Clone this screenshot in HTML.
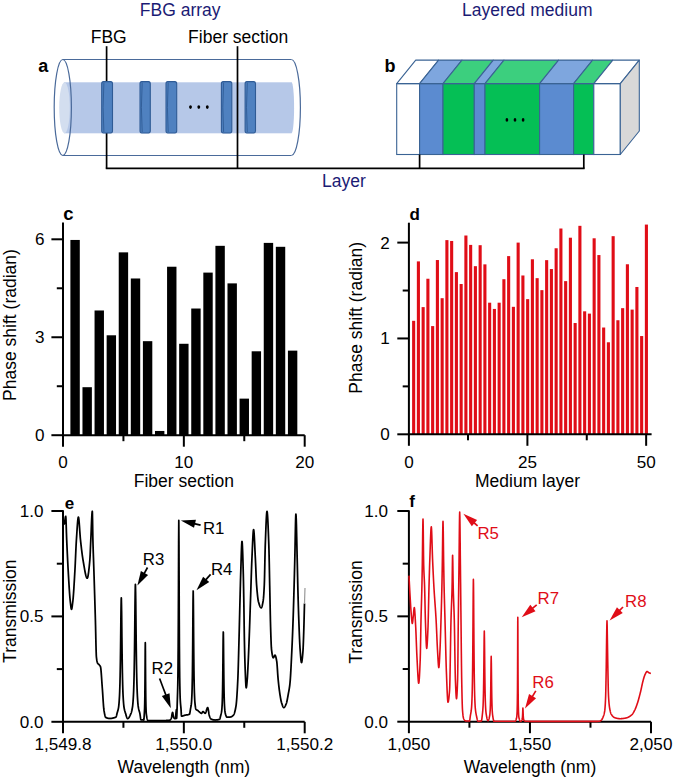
<!DOCTYPE html>
<html><head><meta charset="utf-8"><title>Figure</title>
<style>
html,body{margin:0;padding:0;background:#fff;}
body{width:675px;height:779px;overflow:hidden;}
svg{display:block;font-family:"Liberation Sans",sans-serif;}
</style></head>
<body>
<svg width="675" height="779" viewBox="0 0 675 779">
<rect width="675" height="779" fill="#fff"/>
<rect x="64" y="82.3" width="227.5" height="51" fill="#b6c8e8"/>
<ellipse cx="291.5" cy="107.8" rx="2.6" ry="25.5" fill="#b6c8e8"/>
<ellipse cx="64.5" cy="107.8" rx="5.3" ry="25.5" fill="#d3deef"/>
<ellipse cx="62.8" cy="107.5" rx="8.6" ry="48" fill="none" stroke="#4a6a9a" stroke-width="1.2"/>
<line x1="62.8" y1="59.5" x2="291.4" y2="59.5" stroke="#4a6a9a" stroke-width="1.2" />
<line x1="62.8" y1="155.5" x2="291.4" y2="155.5" stroke="#4a6a9a" stroke-width="1.2" />
<path d="M291.4,59.5 A9,48 0 0 1 291.4,155.5" fill="none" stroke="#4a6a9a" stroke-width="1.2"/>
<line x1="106.6" y1="46.2" x2="106.6" y2="168.6" stroke="#000" stroke-width="1.7" />
<line x1="237.5" y1="46.2" x2="237.5" y2="168.6" stroke="#000" stroke-width="1.7" />
<rect x="101.7" y="81.6" width="10.8" height="51.4" rx="1.8" ry="2.2" fill="#4f81c0" stroke="#2f5b95" stroke-width="1.1"/>
<path d="M103.9,82.6 Q102.3,107.3 103.9,132.0" fill="none" stroke="#2f5b95" stroke-width="0.9"/>
<rect x="140" y="81.6" width="10.3" height="51.4" rx="1.8" ry="2.2" fill="#4f81c0" stroke="#2f5b95" stroke-width="1.1"/>
<path d="M142.2,82.6 Q140.6,107.3 142.2,132.0" fill="none" stroke="#2f5b95" stroke-width="0.9"/>
<rect x="166" y="81.6" width="10.7" height="51.4" rx="1.8" ry="2.2" fill="#4f81c0" stroke="#2f5b95" stroke-width="1.1"/>
<path d="M168.2,82.6 Q166.6,107.3 168.2,132.0" fill="none" stroke="#2f5b95" stroke-width="0.9"/>
<rect x="221.4" y="81.6" width="10.4" height="51.4" rx="1.8" ry="2.2" fill="#4f81c0" stroke="#2f5b95" stroke-width="1.1"/>
<path d="M223.6,82.6 Q222,107.3 223.6,132.0" fill="none" stroke="#2f5b95" stroke-width="0.9"/>
<rect x="245.1" y="81.6" width="10.4" height="51.4" rx="1.8" ry="2.2" fill="#4f81c0" stroke="#2f5b95" stroke-width="1.1"/>
<path d="M247.3,82.6 Q245.7,107.3 247.3,132.0" fill="none" stroke="#2f5b95" stroke-width="0.9"/>
<ellipse cx="190.5" cy="107.1" rx="1.45" ry="1.8" fill="#000"/>
<ellipse cx="198.8" cy="107.1" rx="1.45" ry="1.8" fill="#000"/>
<ellipse cx="207.3" cy="107.1" rx="1.45" ry="1.8" fill="#000"/>
<text x="180.2" y="16" font-size="17.5" text-anchor="middle" fill="#1b1b74" font-weight="normal" >FBG array</text>
<text x="108.7" y="43.2" font-size="17.5" text-anchor="middle" fill="#000" font-weight="normal" >FBG</text>
<text x="238.2" y="43.2" font-size="17.5" text-anchor="middle" fill="#000" font-weight="normal" >Fiber section</text>
<text x="43.3" y="71.8" font-size="18" text-anchor="middle" fill="#000" font-weight="bold" >a</text>
<rect x="396.7" y="83.6" width="22.9" height="70.9" fill="#ffffff" stroke="#3a6394" stroke-width="1.1"/>
<polygon points="396.7,83.6 419.6,83.6 438.6,60.1 415.7,60.1" fill="#ffffff" stroke="#3a6394" stroke-width="1.1" stroke-linejoin="round"/>
<rect x="419.6" y="83.6" width="23.4" height="70.9" fill="#5b8bd0" stroke="#3a6394" stroke-width="1.1"/>
<polygon points="419.6,83.6 443,83.6 462,60.1 438.6,60.1" fill="#7ea6de" stroke="#3a6394" stroke-width="1.1" stroke-linejoin="round"/>
<rect x="443" y="83.6" width="31.3" height="70.9" fill="#05bf55" stroke="#3a6394" stroke-width="1.1"/>
<polygon points="443,83.6 474.3,83.6 493.3,60.1 462,60.1" fill="#3ccf7e" stroke="#3a6394" stroke-width="1.1" stroke-linejoin="round"/>
<rect x="474.3" y="83.6" width="10.7" height="70.9" fill="#5b8bd0" stroke="#3a6394" stroke-width="1.1"/>
<polygon points="474.3,83.6 485,83.6 504,60.1 493.3,60.1" fill="#7ea6de" stroke="#3a6394" stroke-width="1.1" stroke-linejoin="round"/>
<rect x="485" y="83.6" width="54.6" height="70.9" fill="#05bf55" stroke="#3a6394" stroke-width="1.1"/>
<polygon points="485,83.6 539.6,83.6 558.6,60.1 504,60.1" fill="#3ccf7e" stroke="#3a6394" stroke-width="1.1" stroke-linejoin="round"/>
<rect x="539.6" y="83.6" width="34" height="70.9" fill="#5b8bd0" stroke="#3a6394" stroke-width="1.1"/>
<polygon points="539.6,83.6 573.6,83.6 592.6,60.1 558.6,60.1" fill="#7ea6de" stroke="#3a6394" stroke-width="1.1" stroke-linejoin="round"/>
<rect x="573.6" y="83.6" width="20.2" height="70.9" fill="#05bf55" stroke="#3a6394" stroke-width="1.1"/>
<polygon points="573.6,83.6 593.8,83.6 612.8,60.1 592.6,60.1" fill="#3ccf7e" stroke="#3a6394" stroke-width="1.1" stroke-linejoin="round"/>
<rect x="593.8" y="83.6" width="26.5" height="70.9" fill="#ffffff" stroke="#3a6394" stroke-width="1.1"/>
<polygon points="593.8,83.6 620.3,83.6 639.3,60.1 612.8,60.1" fill="#ffffff" stroke="#3a6394" stroke-width="1.1" stroke-linejoin="round"/>
<polygon points="620.3,83.6 639.3,60.1 639.3,131 620.3,154.5" fill="#d8d8d8" stroke="#3a6394" stroke-width="1.1" stroke-linejoin="round"/>
<ellipse cx="506.9" cy="119.9" rx="1.35" ry="1.8" fill="#000"/>
<ellipse cx="515.0" cy="119.9" rx="1.35" ry="1.8" fill="#000"/>
<ellipse cx="523.1" cy="119.9" rx="1.35" ry="1.8" fill="#000"/>
<line x1="419.6" y1="154.5" x2="419.6" y2="168.6" stroke="#000" stroke-width="1.7" />
<line x1="583.8" y1="154.5" x2="583.8" y2="168.6" stroke="#000" stroke-width="1.7" />
<line x1="105.8" y1="168.4" x2="584.6" y2="168.4" stroke="#000" stroke-width="1.7" />
<text x="527.3" y="16" font-size="17.5" text-anchor="middle" fill="#1b1b74" font-weight="normal" >Layered medium</text>
<text x="343.9" y="186.7" font-size="17.5" text-anchor="middle" fill="#1b1b74" font-weight="normal" >Layer</text>
<text x="390" y="72.4" font-size="18" text-anchor="middle" fill="#000" font-weight="bold" >b</text>
<rect x="70.39" y="239.95" width="9.4" height="195.25" fill="#000"/>
<rect x="82.47" y="387.2" width="9.4" height="48" fill="#000"/>
<rect x="94.55" y="310.48" width="9.4" height="124.72" fill="#000"/>
<rect x="106.64" y="335.29" width="9.4" height="99.91" fill="#000"/>
<rect x="118.73" y="252.36" width="9.4" height="182.84" fill="#000"/>
<rect x="130.81" y="278.48" width="9.4" height="156.72" fill="#000"/>
<rect x="142.9" y="341.17" width="9.4" height="94.03" fill="#000"/>
<rect x="154.98" y="430.96" width="9.4" height="4.24" fill="#000"/>
<rect x="167.07" y="266.73" width="9.4" height="168.47" fill="#000"/>
<rect x="179.15" y="343.78" width="9.4" height="91.42" fill="#000"/>
<rect x="191.24" y="308.52" width="9.4" height="126.68" fill="#000"/>
<rect x="203.32" y="272.6" width="9.4" height="162.6" fill="#000"/>
<rect x="215.41" y="245.83" width="9.4" height="189.37" fill="#000"/>
<rect x="227.49" y="283.38" width="9.4" height="151.82" fill="#000"/>
<rect x="239.58" y="398.63" width="9.4" height="36.57" fill="#000"/>
<rect x="251.66" y="351.29" width="9.4" height="83.91" fill="#000"/>
<rect x="263.75" y="242.89" width="9.4" height="192.31" fill="#000"/>
<rect x="275.83" y="246.81" width="9.4" height="188.39" fill="#000"/>
<rect x="287.92" y="350.64" width="9.4" height="84.56" fill="#000"/>
<line x1="63" y1="222.5" x2="63" y2="436.2" stroke="#000" stroke-width="2" />
<line x1="62" y1="435.2" x2="304.7" y2="435.2" stroke="#000" stroke-width="2" />
<line x1="51.4" y1="435.2" x2="63" y2="435.2" stroke="#000" stroke-width="2" />
<line x1="51.4" y1="337.25" x2="63" y2="337.25" stroke="#000" stroke-width="2" />
<line x1="51.4" y1="239.3" x2="63" y2="239.3" stroke="#000" stroke-width="2" />
<line x1="56.8" y1="386.23" x2="63" y2="386.23" stroke="#000" stroke-width="2" />
<line x1="56.8" y1="288.27" x2="63" y2="288.27" stroke="#000" stroke-width="2" />
<line x1="63" y1="435.2" x2="63" y2="446.7" stroke="#000" stroke-width="2" />
<line x1="183.85" y1="435.2" x2="183.85" y2="446.7" stroke="#000" stroke-width="2" />
<line x1="304.7" y1="435.2" x2="304.7" y2="446.7" stroke="#000" stroke-width="2" />
<line x1="123.43" y1="435.2" x2="123.43" y2="441.2" stroke="#000" stroke-width="2" />
<line x1="244.28" y1="435.2" x2="244.28" y2="441.2" stroke="#000" stroke-width="2" />
<text x="44.5" y="441.2" font-size="17.1" text-anchor="end" fill="#000" font-weight="normal" >0</text>
<text x="44.5" y="343.25" font-size="17.1" text-anchor="end" fill="#000" font-weight="normal" >3</text>
<text x="44.5" y="245.3" font-size="17.1" text-anchor="end" fill="#000" font-weight="normal" >6</text>
<text x="63" y="467.5" font-size="17.1" text-anchor="middle" fill="#000" font-weight="normal" >0</text>
<text x="183.85" y="467.5" font-size="17.1" text-anchor="middle" fill="#000" font-weight="normal" >10</text>
<text x="304.7" y="467.5" font-size="17.1" text-anchor="middle" fill="#000" font-weight="normal" >20</text>
<text x="68.5" y="220" font-size="18.5" text-anchor="middle" fill="#000" font-weight="bold" >c</text>
<text x="0" y="0" font-size="17.5" text-anchor="middle" transform="translate(15.6,325) rotate(-90)">Phase shift (radian)</text>
<text x="183.85" y="487" font-size="17.5" text-anchor="middle" fill="#000" font-weight="normal" >Fiber section</text>
<rect x="412.1" y="320.81" width="3.1" height="113.49" fill="#e00d17"/>
<rect x="416.85" y="261.39" width="3.1" height="172.91" fill="#e00d17"/>
<rect x="421.6" y="307.11" width="3.1" height="127.19" fill="#e00d17"/>
<rect x="426.35" y="278.74" width="3.1" height="155.56" fill="#e00d17"/>
<rect x="431.1" y="326.09" width="3.1" height="108.21" fill="#e00d17"/>
<rect x="435.85" y="260.04" width="3.1" height="174.26" fill="#e00d17"/>
<rect x="440.6" y="298.19" width="3.1" height="136.11" fill="#e00d17"/>
<rect x="445.35" y="240.11" width="3.1" height="194.19" fill="#e00d17"/>
<rect x="450.1" y="240.97" width="3.1" height="193.33" fill="#e00d17"/>
<rect x="454.85" y="272.12" width="3.1" height="162.18" fill="#e00d17"/>
<rect x="459.6" y="284.01" width="3.1" height="150.29" fill="#e00d17"/>
<rect x="464.35" y="235.51" width="3.1" height="198.79" fill="#e00d17"/>
<rect x="469.1" y="244.9" width="3.1" height="189.4" fill="#e00d17"/>
<rect x="473.85" y="266.18" width="3.1" height="168.12" fill="#e00d17"/>
<rect x="478.6" y="245.19" width="3.1" height="189.11" fill="#e00d17"/>
<rect x="483.35" y="264.36" width="3.1" height="169.94" fill="#e00d17"/>
<rect x="488.1" y="302.7" width="3.1" height="131.6" fill="#e00d17"/>
<rect x="492.85" y="308.93" width="3.1" height="125.37" fill="#e00d17"/>
<rect x="497.6" y="302.7" width="3.1" height="131.6" fill="#e00d17"/>
<rect x="502.35" y="279.21" width="3.1" height="155.09" fill="#e00d17"/>
<rect x="507.1" y="256.11" width="3.1" height="178.19" fill="#e00d17"/>
<rect x="511.85" y="306.82" width="3.1" height="127.48" fill="#e00d17"/>
<rect x="516.6" y="242.6" width="3.1" height="191.7" fill="#e00d17"/>
<rect x="521.35" y="275.48" width="3.1" height="158.82" fill="#e00d17"/>
<rect x="526.1" y="299.15" width="3.1" height="135.15" fill="#e00d17"/>
<rect x="530.85" y="259.28" width="3.1" height="175.02" fill="#e00d17"/>
<rect x="535.6" y="278.16" width="3.1" height="156.14" fill="#e00d17"/>
<rect x="540.35" y="290.14" width="3.1" height="144.16" fill="#e00d17"/>
<rect x="545.1" y="260.14" width="3.1" height="174.16" fill="#e00d17"/>
<rect x="549.85" y="269.05" width="3.1" height="165.25" fill="#e00d17"/>
<rect x="554.6" y="248.26" width="3.1" height="186.04" fill="#e00d17"/>
<rect x="559.35" y="228.51" width="3.1" height="205.79" fill="#e00d17"/>
<rect x="564.1" y="281.13" width="3.1" height="153.17" fill="#e00d17"/>
<rect x="568.85" y="237.71" width="3.1" height="196.59" fill="#e00d17"/>
<rect x="573.6" y="323.02" width="3.1" height="111.28" fill="#e00d17"/>
<rect x="578.35" y="225.83" width="3.1" height="208.47" fill="#e00d17"/>
<rect x="583.1" y="311.32" width="3.1" height="122.98" fill="#e00d17"/>
<rect x="587.85" y="313.62" width="3.1" height="120.68" fill="#e00d17"/>
<rect x="592.6" y="238.29" width="3.1" height="196.01" fill="#e00d17"/>
<rect x="597.35" y="255.06" width="3.1" height="179.24" fill="#e00d17"/>
<rect x="602.1" y="327.52" width="3.1" height="106.78" fill="#e00d17"/>
<rect x="606.85" y="342.28" width="3.1" height="92.02" fill="#e00d17"/>
<rect x="611.6" y="236.18" width="3.1" height="198.12" fill="#e00d17"/>
<rect x="616.35" y="320.24" width="3.1" height="114.06" fill="#e00d17"/>
<rect x="621.1" y="308.16" width="3.1" height="126.14" fill="#e00d17"/>
<rect x="625.85" y="264.26" width="3.1" height="170.04" fill="#e00d17"/>
<rect x="630.6" y="309.6" width="3.1" height="124.7" fill="#e00d17"/>
<rect x="635.35" y="286.98" width="3.1" height="147.32" fill="#e00d17"/>
<rect x="640.1" y="336.05" width="3.1" height="98.25" fill="#e00d17"/>
<rect x="644.85" y="224.58" width="3.1" height="209.72" fill="#e00d17"/>
<line x1="408.9" y1="222.7" x2="408.9" y2="435.3" stroke="#000" stroke-width="2" />
<line x1="407.9" y1="434.3" x2="651.6" y2="434.3" stroke="#000" stroke-width="2" />
<line x1="397.3" y1="434.3" x2="408.9" y2="434.3" stroke="#000" stroke-width="2" />
<line x1="397.3" y1="338.45" x2="408.9" y2="338.45" stroke="#000" stroke-width="2" />
<line x1="397.3" y1="242.6" x2="408.9" y2="242.6" stroke="#000" stroke-width="2" />
<line x1="402.7" y1="386.38" x2="408.9" y2="386.38" stroke="#000" stroke-width="2" />
<line x1="402.7" y1="290.53" x2="408.9" y2="290.53" stroke="#000" stroke-width="2" />
<line x1="408.9" y1="434.3" x2="408.9" y2="445.8" stroke="#000" stroke-width="2" />
<line x1="527.4" y1="434.3" x2="527.4" y2="445.8" stroke="#000" stroke-width="2" />
<line x1="646.15" y1="434.3" x2="646.15" y2="445.8" stroke="#000" stroke-width="2" />
<line x1="468.02" y1="434.3" x2="468.02" y2="440.3" stroke="#000" stroke-width="2" />
<line x1="586.77" y1="434.3" x2="586.77" y2="440.3" stroke="#000" stroke-width="2" />
<text x="389.8" y="440.3" font-size="17.1" text-anchor="end" fill="#000" font-weight="normal" >0</text>
<text x="389.8" y="344.45" font-size="17.1" text-anchor="end" fill="#000" font-weight="normal" >1</text>
<text x="389.8" y="248.6" font-size="17.1" text-anchor="end" fill="#000" font-weight="normal" >2</text>
<text x="408.9" y="467.5" font-size="17.1" text-anchor="middle" fill="#000" font-weight="normal" >0</text>
<text x="527.4" y="467.5" font-size="17.1" text-anchor="middle" fill="#000" font-weight="normal" >25</text>
<text x="646.15" y="467.5" font-size="17.1" text-anchor="middle" fill="#000" font-weight="normal" >50</text>
<text x="414.8" y="219.5" font-size="17" text-anchor="middle" fill="#000" font-weight="bold" >d</text>
<text x="0" y="0" font-size="17.5" text-anchor="middle" transform="translate(362.2,317.8) rotate(-90)">Phase shift (radian)</text>
<text x="0" y="0" font-size="17.5" text-anchor="middle" fill="#000" font-weight="normal" ></text>
<text x="527.5" y="487" font-size="17.5" text-anchor="middle" fill="#000" font-weight="normal" >Medium layer</text>
<line x1="63" y1="510.3" x2="63" y2="722.8" stroke="#000" stroke-width="2" />
<line x1="62" y1="721.8" x2="304.7" y2="721.8" stroke="#000" stroke-width="2" />
<line x1="51.4" y1="721.8" x2="63" y2="721.8" stroke="#000" stroke-width="2" />
<line x1="51.4" y1="616.4" x2="63" y2="616.4" stroke="#000" stroke-width="2" />
<line x1="51.4" y1="511" x2="63" y2="511" stroke="#000" stroke-width="2" />
<line x1="56.8" y1="669.1" x2="63" y2="669.1" stroke="#000" stroke-width="2" />
<line x1="56.8" y1="563.7" x2="63" y2="563.7" stroke="#000" stroke-width="2" />
<line x1="63" y1="721.8" x2="63" y2="733.3" stroke="#000" stroke-width="2" />
<line x1="183.85" y1="721.8" x2="183.85" y2="733.3" stroke="#000" stroke-width="2" />
<line x1="304.7" y1="721.8" x2="304.7" y2="733.3" stroke="#000" stroke-width="2" />
<line x1="123.42" y1="721.8" x2="123.42" y2="727.8" stroke="#000" stroke-width="2" />
<line x1="244.27" y1="721.8" x2="244.27" y2="727.8" stroke="#000" stroke-width="2" />
<text x="43.6" y="727.8" font-size="17.1" text-anchor="end" fill="#000" font-weight="normal" >0.0</text>
<text x="43.6" y="622.4" font-size="17.1" text-anchor="end" fill="#000" font-weight="normal" >0.5</text>
<text x="43.6" y="517" font-size="17.1" text-anchor="end" fill="#000" font-weight="normal" >1.0</text>
<text x="63" y="750" font-size="17.1" text-anchor="middle" fill="#000" font-weight="normal" >1,549.8</text>
<text x="183.85" y="750" font-size="17.1" text-anchor="middle" fill="#000" font-weight="normal" >1,550.0</text>
<text x="304.7" y="750" font-size="17.1" text-anchor="middle" fill="#000" font-weight="normal" >1,550.2</text>
<text x="69.5" y="508.8" font-size="17" text-anchor="middle" fill="#000" font-weight="bold" >e</text>
<text x="0" y="0" font-size="17.5" text-anchor="middle" transform="translate(15.8,611.2) rotate(-90)">Transmission</text>
<text x="183.85" y="773.2" font-size="17.5" text-anchor="middle" fill="#000" font-weight="normal" >Wavelength (nm)</text>
<line x1="408.9" y1="510.3" x2="408.9" y2="722.7" stroke="#000" stroke-width="2" />
<line x1="407.9" y1="721.7" x2="651" y2="721.7" stroke="#000" stroke-width="2" />
<line x1="397.3" y1="721.7" x2="408.9" y2="721.7" stroke="#000" stroke-width="2" />
<line x1="397.3" y1="616.35" x2="408.9" y2="616.35" stroke="#000" stroke-width="2" />
<line x1="397.3" y1="511" x2="408.9" y2="511" stroke="#000" stroke-width="2" />
<line x1="402.7" y1="669.03" x2="408.9" y2="669.03" stroke="#000" stroke-width="2" />
<line x1="402.7" y1="563.67" x2="408.9" y2="563.67" stroke="#000" stroke-width="2" />
<line x1="408.9" y1="721.7" x2="408.9" y2="733.2" stroke="#000" stroke-width="2" />
<line x1="529.95" y1="721.7" x2="529.95" y2="733.2" stroke="#000" stroke-width="2" />
<line x1="651" y1="721.7" x2="651" y2="733.2" stroke="#000" stroke-width="2" />
<line x1="469.42" y1="721.7" x2="469.42" y2="727.7" stroke="#000" stroke-width="2" />
<line x1="590.48" y1="721.7" x2="590.48" y2="727.7" stroke="#000" stroke-width="2" />
<text x="388" y="727.7" font-size="17.1" text-anchor="end" fill="#000" font-weight="normal" >0.0</text>
<text x="388" y="622.35" font-size="17.1" text-anchor="end" fill="#000" font-weight="normal" >0.5</text>
<text x="388" y="517" font-size="17.1" text-anchor="end" fill="#000" font-weight="normal" >1.0</text>
<text x="408.9" y="750" font-size="17.1" text-anchor="middle" fill="#000" font-weight="normal" >1,050</text>
<text x="529.95" y="750" font-size="17.1" text-anchor="middle" fill="#000" font-weight="normal" >1,550</text>
<text x="651" y="750" font-size="17.1" text-anchor="middle" fill="#000" font-weight="normal" >2,050</text>
<text x="412.2" y="506.6" font-size="17" text-anchor="middle" fill="#000" font-weight="bold" >f</text>
<text x="0" y="0" font-size="17.5" text-anchor="middle" transform="translate(362,612) rotate(-90)">Transmission</text>
<text x="529.95" y="773.2" font-size="17.5" text-anchor="middle" fill="#000" font-weight="normal" >Wavelength (nm)</text>
<path d="M63,522L63.15,522.62L63.3,523.1L63.45,523.46L63.6,523.7L63.75,523.86L63.9,523.95L64.05,523.99L64.2,524L64.2,524L64.35,523.78L64.5,523.2L64.65,522.34L64.8,521.29L64.95,520.15L65.1,519.01L65.25,517.96L65.4,517.1L65.55,516.52L65.7,516.3L65.7,516.3L65.85,517.32L66,520.03L66.15,523.92L66.3,528.47L66.45,533.19L66.6,537.55L66.7,540L66.75,541.11L66.9,544.42L67.05,547.72L67.2,550.98L67.35,554.2L67.5,557.35L67.65,560.43L67.8,563.41L67.95,566.29L68.1,569.04L68.2,570.8L68.25,571.66L68.4,574.26L68.55,576.86L68.7,579.44L68.85,581.98L69,584.47L69.15,586.9L69.3,589.24L69.45,591.49L69.6,593.62L69.75,595.62L69.9,597.48L70.05,599.17L70.2,600.69L70.3,601.6L70.35,602.03L70.5,603.37L70.65,604.7L70.8,605.96L70.95,607.11L71.1,608.07L71.25,608.79L71.4,609.21L71.5,609.3L71.55,609.28L71.7,609.02L71.85,608.49L72,607.73L72.15,606.78L72.3,605.69L72.45,604.5L72.6,603.26L72.75,602.01L72.8,601.6L72.9,600.73L73.05,599.26L73.2,597.6L73.35,595.76L73.5,593.76L73.65,591.62L73.8,589.37L73.95,587.01L74.1,584.56L74.25,582.04L74.4,579.48L74.55,576.88L74.7,574.27L74.85,571.66L74.9,570.8L75,569L75.15,566.04L75.3,562.85L75.45,559.51L75.6,556.1L75.75,552.69L75.9,549.38L76.05,546.23L76.2,543.34L76.35,540.77L76.4,540L76.5,538.49L76.65,536.16L76.8,533.8L76.95,531.45L77.1,529.14L77.25,526.92L77.4,524.82L77.55,522.9L77.7,521.18L77.85,519.71L78,518.53L78.15,517.68L78.3,517.2L78.4,517.1L78.45,517.13L78.6,517.52L78.75,518.35L78.9,519.54L79.05,521.04L79.2,522.8L79.35,524.75L79.5,526.84L79.65,529.01L79.8,531.2L79.95,533.35L80.1,535.41L80.25,537.32L80.4,539.01L80.5,540L80.55,540.46L80.7,541.83L80.85,543.19L81,544.54L81.15,545.87L81.3,547.19L81.45,548.48L81.6,549.74L81.75,550.98L81.9,552.19L82.05,553.37L82.2,554.51L82.35,555.62L82.5,556.68L82.65,557.71L82.8,558.69L82.95,559.62L83.1,560.5L83.1,560.5L83.25,561.36L83.4,562.24L83.55,563.13L83.7,564.02L83.85,564.92L84,565.81L84.15,566.7L84.3,567.59L84.45,568.46L84.6,569.31L84.75,570.15L84.9,570.97L85.05,571.76L85.2,572.52L85.35,573.25L85.5,573.95L85.65,574.6L85.8,575.21L85.95,575.78L86.1,576.29L86.25,576.75L86.4,577.16L86.55,577.5L86.7,577.78L86.85,577.99L87,578.13L87.15,578.2L87.2,578.2L87.3,578.16L87.45,577.98L87.6,577.65L87.75,577.17L87.9,576.56L88.05,575.83L88.2,574.97L88.35,574.01L88.5,572.94L88.65,571.77L88.8,570.52L88.95,569.19L89.1,567.79L89.25,566.32L89.4,564.79L89.55,563.21L89.7,561.6L89.8,560.5L89.85,559.9L90,557.59L90.15,554.67L90.3,551.35L90.45,547.83L90.6,544.32L90.75,541.02L90.8,540L90.9,537.91L91.05,534.43L91.2,530.7L91.35,526.88L91.5,523.13L91.65,519.63L91.8,516.54L91.95,514.02L92.1,512.24L92.25,511.36L92.3,511.3L92.4,512.9L92.55,519.78L92.7,529.17L92.85,537.83L92.9,540L93,543.67L93.15,548.69L93.3,553.29L93.45,557.64L93.6,561.89L93.75,566.22L93.9,570.8L93.9,570.8L94.05,575.56L94.2,580.33L94.35,585.12L94.5,589.94L94.65,594.8L94.8,599.71L94.95,604.67L95.1,609.7L95.25,614.81L95.4,620L95.4,620L95.55,625.85L95.7,632.54L95.85,639.45L96,645.99L96.15,651.55L96.3,655.53L96.4,657L96.45,657.45L96.6,658.7L96.75,659.78L96.9,660.7L97.05,661.48L97.2,662.11L97.35,662.62L97.5,663.01L97.6,663.2L97.65,663.28L97.8,663.5L97.95,663.68L98.1,663.82L98.25,663.95L98.4,664.07L98.55,664.18L98.7,664.3L98.85,664.44L99,664.6L99,664.6L99.15,664.77L99.3,664.93L99.45,665.1L99.6,665.26L99.75,665.44L99.9,665.65L100.05,665.88L100.2,666.14L100.35,666.44L100.5,666.8L100.5,666.8L100.65,667.4L100.8,668.38L100.95,669.71L101.1,671.31L101.25,673.15L101.4,675.17L101.55,677.31L101.7,679.52L101.85,681.75L102,683.94L102.15,686.04L102.3,688L102.3,688L102.45,689.98L102.6,692.13L102.75,694.4L102.9,696.73L103.05,699.08L103.2,701.37L103.35,703.56L103.5,705.59L103.65,707.41L103.8,708.96L103.95,710.18L104,710.5L104.1,711.1L104.25,711.97L104.4,712.81L104.55,713.6L104.7,714.35L104.85,715.03L105,715.65L105.15,716.19L105.3,716.65L105.45,717.02L105.6,717.3L105.75,717.47L105.8,717.5L105.9,717.55L106.05,717.62L106.2,717.69L106.35,717.76L106.5,717.82L106.65,717.88L106.8,717.94L106.95,717.99L107.1,718.04L107.25,718.09L107.4,718.14L107.55,718.18L107.7,718.22L107.85,718.26L108,718.29L108.15,718.32L108.3,718.35L108.45,718.38L108.6,718.4L108.75,718.42L108.9,718.44L109.05,718.45L109.2,718.47L109.35,718.48L109.5,718.49L109.65,718.49L109.8,718.5L109.95,718.5L110,718.5L110.1,718.5L110.25,718.5L110.4,718.49L110.55,718.48L110.7,718.47L110.85,718.45L111,718.44L111.15,718.42L111.3,718.4L111.45,718.38L111.6,718.35L111.75,718.32L111.9,718.3L112.05,718.27L112.2,718.24L112.35,718.2L112.5,718.17L112.65,718.14L112.8,718.1L112.95,718.06L113.1,718.03L113.25,717.99L113.4,717.95L113.55,717.91L113.7,717.88L113.85,717.84L114,717.8L114,717.8L114.15,717.76L114.3,717.73L114.45,717.69L114.6,717.65L114.75,717.61L114.9,717.56L115.05,717.51L115.2,717.46L115.35,717.39L115.5,717.32L115.65,717.24L115.8,717.14L115.95,717.04L116,717L116.1,716.88L116.25,716.53L116.4,716.05L116.55,715.47L116.7,714.83L116.85,714.18L117,713.57L117.05,713.38L117.15,713.02L117.3,712.51L117.45,712.03L117.6,711.54L117.75,711.05L117.9,710.52L118.05,709.95L118.2,709.32L118.35,708.6L118.5,707.79L118.58,707.31L118.65,706.84L118.8,705.62L118.95,704.11L119.1,702.32L119.25,700.25L119.4,697.92L119.43,697.42L119.55,695.12L119.7,691.49L119.85,687.08L120,681.94L120.02,681.02L120.15,675.59L120.3,667.38L120.45,657.9L120.45,657.9L120.6,646.31L120.7,637.33L120.75,633.3L120.9,618.8L121,610.92L121.05,608.04L121.2,599.94L121.3,597.8L121.35,598.38L121.5,605.02L121.6,610.92L121.65,614.55L121.8,628.47L121.89,637.33L121.95,642.03L122.1,654.37L122.15,657.9L122.25,664.33L122.4,673.03L122.55,680.05L122.58,681.02L122.7,685.44L122.85,690.11L123,694.01L123.15,697.07L123.17,697.42L123.3,699.5L123.45,701.66L123.6,703.54L123.75,705.15L123.9,706.46L124.02,707.31L124.05,707.49L124.2,708.35L124.35,709.12L124.5,709.8L124.65,710.42L124.8,710.98L124.95,711.5L125.1,711.99L125.25,712.45L125.4,712.91L125.55,713.38L125.55,713.38L125.7,713.86L125.85,714.37L126,714.88L126.15,715.4L126.3,715.91L126.45,716.4L126.6,716.87L126.75,717.3L126.9,717.68L127.05,718.01L127.2,718.28L127.35,718.47L127.5,718.58L127.6,718.6L127.65,718.6L127.8,718.57L127.95,718.52L128.1,718.44L128.25,718.34L128.4,718.21L128.55,718.06L128.7,717.88L128.85,717.69L129,717.48L129.15,717.24L129.3,717L129.45,716.73L129.6,716.45L129.75,716.16L129.9,715.86L130.05,715.55L130.2,715.22L130.35,714.89L130.5,714.56L130.65,714.21L130.8,713.86L130.9,713.63L130.95,713.51L131.1,713.13L131.25,712.7L131.4,712.23L131.55,711.71L131.7,711.13L131.85,710.5L132,709.8L132.15,709.03L132.3,708.2L132.45,707.29L132.52,706.84L132.6,706.28L132.75,704.98L132.9,703.4L133.05,701.54L133.2,699.4L133.35,697L133.42,695.79L133.5,694.24L133.65,690.69L133.8,686.34L133.95,681.23L134.05,677.45L134.1,675.35L134.25,667.68L134.4,658.4L134.5,651.6L134.55,647.88L134.7,634.92L134.77,628.6L134.85,620.83L135,605.68L135.09,599.07L135.15,594.9L135.3,586.55L135.4,584.4L135.45,584.98L135.6,591.75L135.72,599.07L135.75,601.49L135.9,615.62L136.03,628.6L136.05,630.39L136.2,643.79L136.3,651.6L136.35,655.05L136.5,664.74L136.65,673.01L136.75,677.45L136.8,679.38L136.95,684.72L137.1,689.33L137.25,693.15L137.38,695.79L137.4,696.14L137.55,698.63L137.7,700.86L137.85,702.81L138,704.49L138.15,705.88L138.28,706.84L138.3,706.97L138.45,707.87L138.6,708.64L138.75,709.31L138.9,709.9L139.05,710.45L139.2,710.96L139.35,711.46L139.5,711.98L139.65,712.54L139.8,713.17L139.9,713.63L139.95,713.89L140.1,714.81L140.25,715.88L140.4,717L140.55,718.05L140.7,718.94L140.85,719.55L141,719.8L141,719.8L141.15,719.82L141.3,719.85L141.45,719.87L141.6,719.88L141.75,719.9L141.9,719.92L142.05,719.93L142.2,719.94L142.35,719.95L142.5,719.96L142.65,719.97L142.8,719.98L142.95,719.99L143.1,719.99L143.25,719.99L143.4,720L143.55,720L143.7,720L143.8,720L143.85,719.91L144,718.7L144.15,716.55L144.3,714.05L144.34,713.4L144.45,711.53L144.6,708.17L144.64,707.01L144.75,702.45L144.85,696.42L144.9,692.38L145,681.5L145.05,674.47L145.09,668.22L145.2,651.17L145.2,650.62L145.3,642.7L145.35,645.29L145.41,651.17L145.5,666.61L145.51,668.22L145.6,681.5L145.65,687.3L145.75,696.42L145.8,699.64L145.95,706.7L145.96,707.01L146.1,710.82L146.25,713.31L146.26,713.4L146.4,714.49L146.55,715.56L146.7,716.53L146.85,717.39L147,718.15L147.15,718.8L147.3,719.34L147.45,719.78L147.6,720.12L147.75,720.35L147.9,720.47L148,720.5L148.05,720.5L148.2,720.5L148.35,720.51L148.5,720.51L148.65,720.51L148.8,720.52L148.95,720.52L149.1,720.52L149.25,720.53L149.4,720.53L149.55,720.53L149.7,720.53L149.85,720.54L150,720.54L150.15,720.54L150.3,720.54L150.45,720.55L150.6,720.55L150.75,720.55L150.9,720.55L151.05,720.55L151.2,720.56L151.35,720.56L151.5,720.56L151.65,720.56L151.8,720.56L151.95,720.56L152.1,720.57L152.25,720.57L152.4,720.57L152.55,720.57L152.7,720.57L152.85,720.57L153,720.58L153.15,720.58L153.3,720.58L153.45,720.58L153.6,720.58L153.75,720.58L153.9,720.58L154.05,720.58L154.2,720.58L154.35,720.59L154.5,720.59L154.65,720.59L154.8,720.59L154.95,720.59L155.1,720.59L155.25,720.59L155.4,720.59L155.55,720.59L155.7,720.59L155.85,720.59L156,720.59L156.15,720.59L156.3,720.59L156.45,720.6L156.6,720.6L156.75,720.6L156.9,720.6L157.05,720.6L157.2,720.6L157.35,720.6L157.5,720.6L157.65,720.6L157.8,720.6L157.95,720.6L158.1,720.6L158.25,720.6L158.4,720.6L158.55,720.6L158.7,720.6L158.85,720.6L159,720.6L159.15,720.6L159.3,720.6L159.45,720.6L159.6,720.6L159.75,720.6L159.9,720.6L160,720.6L160.05,720.6L160.2,720.6L160.35,720.6L160.5,720.6L160.65,720.6L160.8,720.6L160.95,720.6L161.1,720.6L161.25,720.6L161.4,720.6L161.55,720.6L161.7,720.59L161.85,720.59L162,720.59L162.15,720.59L162.3,720.59L162.45,720.59L162.6,720.59L162.75,720.58L162.9,720.58L163.05,720.58L163.2,720.58L163.35,720.57L163.5,720.57L163.65,720.57L163.8,720.57L163.95,720.56L164.1,720.56L164.25,720.56L164.4,720.55L164.55,720.55L164.7,720.54L164.85,720.54L165,720.54L165.15,720.53L165.3,720.53L165.45,720.52L165.6,720.52L165.75,720.51L165.9,720.51L166.05,720.5L166.2,720.49L166.35,720.49L166.5,720.48L166.65,720.47L166.8,720.47L166.95,720.46L167.1,720.45L167.25,720.45L167.4,720.44L167.55,720.43L167.7,720.42L167.85,720.41L168,720.4L168.15,720.39L168.3,720.39L168.45,720.38L168.6,720.37L168.75,720.36L168.9,720.34L169.05,720.33L169.2,720.32L169.35,720.31L169.5,720.3L169.5,720.3L169.65,720.27L169.8,720.21L169.95,720.12L170.1,720L170.25,719.86L170.4,719.69L170.55,719.51L170.7,719.3L170.85,719.08L171,718.84L171.15,718.59L171.2,718.5L171.3,718.26L171.45,717.69L171.6,716.94L171.75,716.06L171.9,715.15L172.05,714.26L172.2,713.47L172.35,712.85L172.5,712.48L172.6,712.4L172.65,712.43L172.8,712.89L172.95,713.73L173.1,714.78L173.25,715.86L173.4,716.79L173.55,717.4L173.6,717.5L173.7,717.64L173.85,717.83L174,718L174.15,718.16L174.3,718.3L174.45,718.42L174.6,718.52L174.75,718.59L174.9,718.65L175.05,718.69L175.2,718.7L175.2,718.7L175.35,718.38L175.5,717.53L175.65,716.3L175.8,714.84L175.95,713.3L176.1,711.84L176.25,710.61L176.4,709.76L176.55,709.44L176.55,709.44L176.6,718.3L176.7,717.75L176.85,715.18L177,711.13L177.15,706.29L177.3,701.36L177.36,699.51L177.45,696.86L177.6,692.15L177.75,686.25L177.81,683.34L177.9,677.75L178.05,664.65L178.12,656.51L178.2,646.27L178.35,618.7L178.35,618.7L178.49,585.05L178.5,580.99L178.64,541.86L178.65,540.48L178.8,520.4L178.8,520.4L178.95,540.48L178.96,541.86L179.1,580.99L179.12,585.05L179.25,618.7L179.25,618.7L179.4,646.27L179.48,656.51L179.55,664.65L179.7,677.75L179.79,683.34L179.85,686.32L180,692.71L180.15,697.47L180.24,699.51L180.3,700.59L180.45,702.83L180.6,704.57L180.75,706.08L180.9,707.62L181.05,709.44L181.05,709.44L181.2,712.1L181.35,714.9L181.5,716.2L181.5,716.2L181.65,716.2L181.8,716.19L181.95,716.17L182.1,716.14L182.25,716.11L182.4,716.08L182.55,716.04L182.7,716L182.85,715.95L183,715.9L183.15,715.85L183.3,715.79L183.45,715.74L183.6,715.68L183.75,715.62L183.9,715.56L184.05,715.51L184.2,715.45L184.35,715.4L184.5,715.35L184.65,715.3L184.8,715.25L184.95,715.21L185,715.2L185.1,715.18L185.25,715.14L185.4,715.11L185.55,715.08L185.7,715.06L185.85,715.04L186,715.01L186.15,714.99L186.3,714.97L186.45,714.96L186.6,714.94L186.75,714.92L186.9,714.9L187.05,714.88L187.2,714.86L187.35,714.84L187.5,714.82L187.65,714.8L187.8,714.77L187.95,714.74L188.1,714.71L188.25,714.67L188.4,714.63L188.55,714.59L188.7,714.54L188.85,714.49L189,714.43L189.15,714.37L189.3,714.3L189.45,714.23L189.5,714.2L189.6,714.06L189.75,713.56L189.9,712.8L190.05,711.86L190.2,710.86L190.35,709.87L190.45,709.27L190.5,708.99L190.65,708.2L190.8,707.44L190.95,706.65L191.1,705.76L191.25,704.71L191.4,703.44L191.44,703.06L191.55,701.78L191.7,699.42L191.85,696.37L191.99,692.94L192,692.67L192.15,687.49L192.3,680.37L192.38,676.15L192.45,671.05L192.6,657.62L192.65,652.5L192.75,640.24L192.81,631.45L192.9,618.71L193.01,604.42L193.05,600.34L193.2,591L193.2,591L193.35,600.34L193.39,604.42L193.5,618.71L193.58,631.45L193.65,640.24L193.75,652.5L193.8,657.62L193.95,671.05L194.02,676.15L194.1,680.37L194.25,687.49L194.4,692.67L194.41,692.94L194.55,696.37L194.7,699.42L194.85,701.78L194.96,703.06L195,703.45L195.15,704.84L195.3,706.09L195.45,707.18L195.6,708.08L195.75,708.76L195.9,709.19L195.95,709.27L196.05,709.39L196.2,709.55L196.35,709.69L196.5,709.8L196.65,709.89L196.8,709.97L196.95,710.04L197.1,710.11L197.25,710.18L197.4,710.25L197.55,710.33L197.7,710.43L197.8,710.5L197.85,710.54L198,710.67L198.15,710.81L198.3,710.95L198.45,711.1L198.6,711.25L198.75,711.4L198.9,711.54L199.05,711.68L199.2,711.8L199.2,711.8L199.35,711.92L199.5,712.05L199.65,712.18L199.8,712.31L199.95,712.44L200.1,712.57L200.25,712.69L200.4,712.81L200.55,712.92L200.7,713.02L200.85,713.11L201,713.18L201.15,713.24L201.3,713.28L201.45,713.3L201.5,713.3L201.6,713.28L201.75,713.17L201.9,713L202.05,712.78L202.2,712.53L202.35,712.28L202.5,712.04L202.65,711.83L202.8,711.68L202.95,711.61L203,711.6L203.1,711.61L203.25,711.66L203.4,711.75L203.55,711.87L203.7,712.01L203.85,712.17L204,712.33L204.15,712.51L204.3,712.68L204.45,712.84L204.6,712.99L204.75,713.12L204.9,713.21L205.05,713.28L205.2,713.3L205.2,713.3L205.35,713.24L205.5,713.07L205.65,712.81L205.8,712.47L205.95,712.07L206.1,711.62L206.25,711.13L206.4,710.62L206.55,710.11L206.7,709.61L206.85,709.13L207,708.69L207.15,708.31L207.3,707.99L207.45,707.76L207.6,707.63L207.7,707.6L207.75,707.62L207.9,707.88L208.05,708.39L208.2,709.12L208.35,709.99L208.5,710.97L208.65,711.98L208.8,712.98L208.95,713.91L209.1,714.71L209.25,715.34L209.3,715.5L209.4,715.79L209.55,716.22L209.7,716.64L209.85,717.04L210,717.41L210.15,717.76L210.3,718.08L210.45,718.36L210.6,718.6L210.75,718.8L210.9,718.94L211,719L211.05,719.02L211.2,719.1L211.35,719.17L211.5,719.23L211.65,719.3L211.8,719.36L211.95,719.42L212.1,719.47L212.25,719.53L212.4,719.58L212.55,719.62L212.7,719.67L212.85,719.71L213,719.75L213.15,719.79L213.3,719.82L213.45,719.85L213.6,719.88L213.75,719.9L213.9,719.92L214.05,719.94L214.2,719.96L214.35,719.97L214.5,719.98L214.65,719.99L214.8,720L214.95,720L215,720L215.1,720L215.25,720L215.4,720L215.55,719.99L215.7,719.99L215.85,719.98L216,719.97L216.15,719.96L216.3,719.95L216.45,719.94L216.6,719.93L216.75,719.91L216.9,719.9L217.05,719.88L217.2,719.86L217.35,719.84L217.5,719.81L217.65,719.79L217.8,719.76L217.95,719.73L218.1,719.7L218.25,719.66L218.4,719.63L218.55,719.59L218.7,719.55L218.85,719.51L219,719.46L219.15,719.42L219.3,719.37L219.45,719.32L219.5,719.3L219.6,719.23L219.75,718.99L219.9,718.63L220.05,718.17L220.2,717.62L220.35,717.03L220.5,716.4L220.65,715.78L220.8,715.17L220.8,715.17L220.95,714.6L221.1,714.03L221.25,713.41L221.4,712.69L221.55,711.84L221.7,710.8L221.7,710.8L221.85,709.35L222,707.31L222.15,704.68L222.2,703.69L222.3,701.23L222.45,696.13L222.55,691.88L222.6,689.34L222.75,679.2L222.8,675.25L222.9,665.68L222.95,660.45L223.05,648.79L223.12,641.44L223.2,635.96L223.3,632L223.35,633.14L223.48,641.44L223.5,643.5L223.65,660.45L223.65,660.45L223.8,675.25L223.8,675.25L223.95,686.33L224.05,691.88L224.1,694.09L224.25,699.71L224.4,703.69L224.4,703.69L224.55,706.49L224.7,708.74L224.85,710.39L224.9,710.8L225,711.53L225.15,712.49L225.3,713.31L225.45,714L225.6,714.57L225.75,715.04L225.8,715.17L225.9,715.43L226.05,715.8L226.2,716.15L226.35,716.47L226.5,716.75L226.65,716.97L226.8,717.12L226.95,717.19L227,717.2L227.1,717.2L227.25,717.2L227.4,717.2L227.55,717.19L227.7,717.19L227.85,717.19L228,717.18L228.15,717.18L228.3,717.17L228.45,717.16L228.6,717.16L228.75,717.15L228.9,717.14L229.05,717.13L229.2,717.12L229.35,717.11L229.5,717.09L229.65,717.08L229.8,717.07L229.95,717.06L230.1,717.04L230.25,717.03L230.4,717.01L230.5,717L230.55,716.99L230.7,716.97L230.85,716.94L231,716.89L231.15,716.84L231.3,716.78L231.45,716.71L231.6,716.64L231.75,716.55L231.9,716.46L232.05,716.36L232.2,716.25L232.35,716.13L232.5,716.01L232.65,715.87L232.8,715.74L232.95,715.59L233.1,715.44L233.25,715.28L233.4,715.11L233.5,715L233.55,714.94L233.7,714.73L233.85,714.47L234,714.17L234.15,713.83L234.3,713.44L234.45,713L234.6,712.52L234.75,712L234.9,711.44L235.05,710.83L235.2,710.18L235.35,709.49L235.5,708.75L235.65,707.97L235.8,707.16L235.95,706.3L236,706L236.1,705.35L236.25,704.15L236.4,702.71L236.55,701.04L236.7,699.15L236.85,697.06L237,694.78L237.15,692.32L237.3,689.71L237.45,686.94L237.6,684.05L237.75,681.03L237.8,680L237.9,677.75L238.05,673.78L238.2,669.19L238.35,664.13L238.5,658.73L238.65,653.13L238.8,647.45L238.95,641.84L239,640L239.1,636.27L239.25,630.42L239.4,624.36L239.55,618.18L239.7,611.99L239.85,605.9L240,600L240,600L240.15,594.14L240.3,588.24L240.45,582.53L240.6,577.21L240.7,574L240.75,572.45L240.9,567.55L241.05,562.48L241.2,557.46L241.35,552.74L241.5,548.54L241.65,545.11L241.8,542.68L241.95,541.48L242,541.4L242.1,541.7L242.25,543.17L242.4,545.72L242.55,549.18L242.7,553.37L242.85,558.12L243,563.26L243.15,568.61L243.3,574L243.3,574L243.45,580.41L243.6,588.37L243.75,597.08L243.8,600L243.9,606.33L244.05,617.04L244.2,627.89L244.35,637.39L244.4,640L244.5,644.75L244.65,651.39L244.8,657.42L244.95,662.76L245.1,667.37L245.2,670L245.25,671.23L245.4,674.98L245.55,678.63L245.7,681.96L245.85,684.73L246,686.73L246.15,687.73L246.2,687.8L246.3,687.68L246.45,687.09L246.6,686.1L246.75,684.8L246.9,683.29L247.05,681.66L247.2,680L247.2,680L247.35,678.1L247.5,675.75L247.65,673.06L247.8,670.13L247.95,667.08L248.1,664L248.1,664L248.25,660.85L248.4,657.52L248.55,654.04L248.7,650.41L248.85,646.68L249,642.85L249.15,638.95L249.3,635L249.3,635L249.45,630.94L249.6,626.71L249.75,622.35L249.9,617.9L250.05,613.41L250.2,608.9L250.35,604.41L250.5,600L250.5,600L250.65,595.53L250.8,590.91L250.95,586.21L251.1,581.51L251.25,576.87L251.4,572.37L251.55,568.08L251.7,564.07L251.85,560.42L251.9,559.3L252,557.05L252.15,553.56L252.3,549.99L252.45,546.45L252.6,543.01L252.75,539.77L252.9,536.83L253.05,534.27L253.2,532.18L253.35,530.65L253.5,529.77L253.6,529.6L253.65,529.64L253.8,530.25L253.95,531.5L254.1,533.32L254.25,535.6L254.4,538.27L254.55,541.23L254.7,544.4L254.85,547.69L255,551L255.15,554.25L255.3,557.36L255.4,559.3L255.45,560.27L255.6,563.45L255.75,566.95L255.9,570.59L256.05,574.23L256.2,577.7L256.35,580.86L256.5,583.55L256.6,585L256.65,585.64L256.8,587.53L256.95,589.34L257.1,591.06L257.25,592.7L257.4,594.23L257.55,595.67L257.7,596.99L257.85,598.19L258,599.28L258.15,600.23L258.3,601.04L258.45,601.71L258.5,601.9L258.6,602.26L258.75,602.79L258.9,603.31L259.05,603.8L259.2,604.28L259.35,604.74L259.5,605.17L259.65,605.58L259.8,605.96L259.95,606.31L260.1,606.63L260.25,606.91L260.4,607.16L260.55,607.37L260.7,607.54L260.85,607.67L261,607.76L261.15,607.8L261.2,607.8L261.3,607.78L261.45,607.65L261.6,607.43L261.75,607.12L261.9,606.72L262.05,606.24L262.2,605.69L262.35,605.06L262.5,604.38L262.65,603.63L262.8,602.83L262.95,601.99L263.1,601.11L263.2,600.5L263.25,600.17L263.4,598.95L263.55,597.39L263.7,595.5L263.85,593.3L264,590.81L264.15,588.04L264.3,585L264.3,585L264.45,580.77L264.6,574.84L264.75,567.88L264.9,560.57L265.05,553.57L265.2,547.54L265.3,544.4L265.35,543.04L265.5,538.92L265.65,534.8L265.8,530.77L265.95,526.9L266.1,523.28L266.25,519.99L266.4,517.12L266.55,514.74L266.7,512.94L266.85,511.8L267,511.4L267,511.4L267.15,511.74L267.3,512.71L267.45,514.26L267.6,516.32L267.75,518.84L267.9,521.77L268.05,525.03L268.2,528.58L268.35,532.34L268.5,536.28L268.65,540.31L268.8,544.4L268.8,544.4L268.95,549.25L269.1,555.36L269.25,562.39L269.4,569.95L269.55,577.69L269.7,585.25L269.8,590L269.85,592.34L270,599.73L270.15,607.34L270.3,614.72L270.45,621.42L270.6,627L270.6,627L270.75,631.85L270.9,636.54L271.05,640.84L271.2,644.54L271.35,647.43L271.5,649.3L271.5,649.3L271.65,650.55L271.8,651.72L271.95,652.8L272.1,653.79L272.25,654.69L272.4,655.48L272.55,656.17L272.7,656.74L272.85,657.2L273,657.53L273.15,657.73L273.3,657.8L273.3,657.8L273.45,657.74L273.6,657.59L273.75,657.35L273.9,657.06L274.05,656.73L274.2,656.39L274.35,656.05L274.5,655.74L274.65,655.49L274.8,655.3L274.95,655.21L275,655.2L275.1,655.23L275.25,655.37L275.4,655.63L275.55,655.98L275.7,656.44L275.85,656.97L276,657.58L276.15,658.25L276.3,658.97L276.45,659.74L276.6,660.55L276.7,661.1L276.75,661.41L276.9,662.65L277.05,664.29L277.2,666.25L277.35,668.41L277.5,670.68L277.65,672.96L277.8,675.16L277.95,677.17L278.1,678.9L278.1,678.9L278.25,680.44L278.4,681.93L278.55,683.37L278.7,684.77L278.85,686.12L279,687.41L279.15,688.65L279.3,689.82L279.45,690.94L279.6,692L279.6,692L279.75,693.02L279.9,694.03L280.05,695.02L280.2,695.98L280.35,696.92L280.5,697.82L280.65,698.68L280.8,699.49L280.95,700.25L281.1,700.95L281.25,701.59L281.4,702.16L281.5,702.5L281.55,702.66L281.7,703.14L281.85,703.63L282,704.1L282.15,704.57L282.3,705.01L282.45,705.44L282.6,705.84L282.75,706.22L282.9,706.56L283.05,706.86L283.2,707.11L283.35,707.32L283.5,707.47L283.65,707.57L283.8,707.6L283.8,707.6L283.95,707.58L284.1,707.52L284.25,707.41L284.4,707.28L284.55,707.11L284.7,706.9L284.85,706.67L285,706.42L285.15,706.14L285.3,705.84L285.45,705.52L285.6,705.19L285.75,704.84L285.9,704.48L286.05,704.12L286.2,703.75L286.3,703.5L286.35,703.37L286.5,702.93L286.65,702.41L286.8,701.83L286.95,701.18L287.1,700.48L287.25,699.74L287.4,698.96L287.55,698.16L287.7,697.33L287.85,696.5L288,695.66L288.15,694.82L288.3,694L288.3,694L288.45,693.2L288.6,692.42L288.75,691.63L288.9,690.83L289.05,690.01L289.2,689.13L289.35,688.2L289.5,687.19L289.65,686.08L289.8,684.87L289.9,684L289.95,683.53L290.1,681.94L290.25,680.08L290.4,677.98L290.55,675.66L290.7,673.16L290.85,670.49L291,667.68L291.15,664.76L291.3,661.74L291.45,658.67L291.6,655.55L291.75,652.42L291.9,649.3L291.9,649.3L292.05,646.11L292.2,642.77L292.35,639.26L292.5,635.61L292.65,631.81L292.8,627.87L292.95,623.8L293.1,619.6L293.1,619.6L293.25,615.18L293.4,610.5L293.55,605.59L293.7,600.51L293.85,595.3L294,590L294,590L294.15,584.56L294.3,578.91L294.45,573.12L294.6,567.22L294.75,561.28L294.8,559.3L294.9,554.97L295.05,547.44L295.2,539.3L295.35,531.25L295.5,524.02L295.65,518.3L295.8,514.83L295.9,514.1L295.95,514.22L296.1,515.96L296.25,519.46L296.4,524.37L296.55,530.32L296.7,536.95L296.85,543.9L297,550.8L297.15,557.29L297.2,559.3L297.3,563.42L297.45,570.13L297.6,577.1L297.75,583.86L297.9,590L297.9,590L298.05,595.56L298.2,600.9L298.35,605.99L298.5,610.81L298.65,615.36L298.8,619.6L298.8,619.6L298.95,623.69L299.1,627.74L299.25,631.68L299.4,635.47L299.55,639.04L299.7,642.33L299.85,645.29L300,647.84L300.1,649.3L300.15,649.98L300.3,652.02L300.45,654.03L300.6,655.96L300.75,657.75L300.9,659.35L301.05,660.68L301.2,661.71L301.35,662.37L301.5,662.6L301.5,662.6L301.65,662.43L301.8,661.96L301.95,661.2L302.1,660.19L302.25,658.98L302.4,657.57L302.55,656.02L302.7,654.35L302.85,652.6L302.9,652L303,650.59L303.15,647.77L303.3,644.28L303.45,640.28L303.6,635.96L303.75,631.49L303.8,630L303.9,626.8L304.05,621.3L304.2,615.32L304.35,609.25L304.5,603.48" fill="none" stroke="#000" stroke-width="1.75" stroke-linejoin="round"/><path d="M304.5,603.48L304.6,600L304.65,598.37L304.8,593.73L304.95,589.39L305,588" fill="none" stroke="#999" stroke-width="1.2"/>
<path d="M409,575.6L409.15,578.72L409.3,581.77L409.45,584.73L409.6,587.62L409.75,590.43L409.9,593.15L410.05,595.79L410.2,598.35L410.3,600L410.35,600.82L410.5,603.27L410.65,605.69L410.8,608.04L410.95,610.28L411.1,612.38L411.25,614.3L411.4,616L411.4,616L411.55,617.65L411.7,619.34L411.85,620.93L412,622.26L412.15,623.16L412.3,623.5L412.3,623.5L412.45,623.18L412.6,622.34L412.75,621.13L412.9,619.73L413.05,618.29L413.2,617L413.2,617L413.35,615.65L413.5,614.05L413.65,612.34L413.8,610.69L413.95,609.26L414.1,608.19L414.25,607.64L414.3,607.6L414.4,607.77L414.55,608.62L414.7,610.08L414.85,612.02L415,614.34L415.15,616.92L415.3,619.63L415.45,622.36L415.6,625L415.6,625L415.75,627.83L415.9,631.12L416.05,634.76L416.2,638.63L416.35,642.6L416.5,646.54L416.65,650.35L416.8,653.89L416.95,657.05L417,658L417.1,659.88L417.25,662.81L417.4,665.82L417.55,668.82L417.7,671.74L417.85,674.5L418,677.01L418.15,679.2L418.3,680.99L418.45,682.3L418.6,683.05L418.7,683.2L418.75,683.16L418.9,682.65L419.05,681.56L419.2,679.96L419.35,677.89L419.5,675.41L419.65,672.58L419.8,669.44L419.95,666.05L420.1,662.47L420.2,660L420.25,658.58L420.4,652.54L420.55,644.64L420.7,635.9L420.85,627.34L421,620L421,620L421.15,614.03L421.3,608.69L421.45,603.62L421.6,598.5L421.75,592.97L421.9,586.7L421.9,586.7L422.05,579.26L422.2,570.86L422.3,565L422.35,561.79L422.5,549.87L422.65,536.84L422.8,525.71L422.95,519.48L423,519L423.1,521.11L423.25,530.35L423.4,543.37L423.55,556.24L423.7,565L423.7,565L423.85,569.72L424,573.38L424.15,576.44L424.3,579.38L424.45,582.64L424.6,586.7L424.6,586.7L424.75,592.14L424.9,598.77L425.05,605.85L425.2,612.64L425.35,618.42L425.4,620L425.5,622.98L425.65,627.54L425.8,632.04L425.95,636.33L426.1,640.22L426.25,643.54L426.4,646.13L426.55,647.8L426.7,648.4L426.7,648.4L426.85,647.97L427,646.77L427.15,644.92L427.3,642.53L427.45,639.73L427.6,636.62L427.75,633.34L427.9,630L427.9,630L428.05,625.95L428.2,620.71L428.35,614.61L428.5,608L428.65,601.23L428.8,594.63L428.95,588.55L429,586.7L429.1,583.1L429.25,577.72L429.4,572.47L429.55,567.47L429.7,562.83L429.8,560L429.85,558.62L430,554.3L430.15,549.83L430.3,545.35L430.45,541.03L430.6,537.01L430.75,533.45L430.9,530.5L431.05,528.32L431.2,527.05L431.3,526.8L431.35,526.9L431.5,528.32L431.65,531.16L431.8,535.06L431.95,539.7L432.1,544.73L432.25,549.82L432.4,554.62L432.55,558.8L432.6,560L432.7,562.26L432.85,565.61L433,568.89L433.15,572.09L433.3,575.21L433.45,578.24L433.6,581.17L433.75,583.99L433.9,586.7L433.9,586.7L434.05,589.27L434.2,591.7L434.35,594.02L434.5,596.24L434.65,598.4L434.8,600.5L434.95,602.57L435.1,604.65L435.25,606.74L435.4,608.87L435.55,611.06L435.7,613.34L435.85,615.72L436,618.24L436.1,620L436.15,620.92L436.3,623.9L436.45,627.14L436.6,630.56L436.75,634.07L436.9,637.59L437.05,641.03L437.2,644.3L437.35,647.32L437.5,650L437.5,650L437.65,652.59L437.8,655.32L437.95,658.05L438.1,660.67L438.25,663.04L438.4,665.04L438.55,666.54L438.7,667.42L438.8,667.6L438.85,667.55L439,666.85L439.15,665.42L439.3,663.4L439.45,660.92L439.6,658.1L439.75,655.09L439.9,652.02L440,650L440.05,648.96L440.2,645.39L440.35,641.25L440.5,636.66L440.65,631.78L440.8,626.73L440.95,621.67L441,620L441.1,616.68L441.25,611.65L441.4,606.47L441.55,601.02L441.7,595.21L441.85,588.92L441.9,586.7L442,581.85L442.15,573.66L442.3,565L442.3,565L442.45,554.52L442.6,542.19L442.75,530.8L442.9,523.11L443,521.4L443.05,521.84L443.2,527.69L443.35,538.16L443.5,550.48L443.65,561.88L443.7,565L443.8,570.79L443.95,579.22L444.1,586.7L444.1,586.7L444.25,593.09L444.4,598.87L444.55,604.25L444.7,609.43L444.85,614.61L445,620L445,620L445.15,625.73L445.3,631.73L445.45,637.87L445.6,644.02L445.75,650.07L445.9,655.88L446.05,661.34L446.2,666.32L446.35,670.7L446.4,672L446.5,674.56L446.65,678.47L446.8,682.39L446.95,686.22L447.1,689.87L447.25,693.22L447.4,696.19L447.55,698.67L447.7,700.57L447.85,701.77L448,702.2L448,702.2L448.15,702.07L448.3,701.69L448.45,701.07L448.6,700.23L448.75,699.18L448.9,697.94L449.05,696.52L449.2,694.93L449.35,693.19L449.5,691.32L449.6,690L449.65,689.18L449.8,685.06L449.95,678.86L450.1,671.1L450.25,662.27L450.4,652.89L450.55,643.47L450.7,634.5L450.85,626.51L451,620L451,620L451.15,614.89L451.3,610.54L451.45,606.63L451.6,602.82L451.75,598.79L451.9,594.22L452.05,588.77L452.1,586.7L452.2,580.69L452.35,568.28L452.5,557.79L452.6,555.2L452.65,555.67L452.8,561.61L452.95,571.5L453.1,581.63L453.2,586.7L453.25,588.61L453.4,593.72L453.55,598.13L453.7,602.13L453.85,606.01L454,610.09L454.15,614.65L454.3,620L454.3,620L454.45,626.94L454.6,635.59L454.75,645.21L454.9,655.05L455.05,664.38L455.2,672.46L455.35,678.54L455.4,680L455.5,682.58L455.65,686.33L455.8,689.82L455.95,692.91L456.1,695.48L456.25,697.38L456.4,698.48L456.5,698.7L456.55,698.65L456.7,697.96L456.85,696.49L457,694.32L457.15,691.52L457.3,688.15L457.45,684.29L457.6,680L457.6,680L457.75,672.22L457.9,659.48L458.05,644.25L458.2,628.98L458.3,620L458.35,615.92L458.5,603.87L458.65,592.07L458.8,580.42L458.95,568.85L459,565L459.1,556.41L459.25,541.62L459.4,527.26L459.55,516.4L459.7,512.1L459.7,512.1L459.85,516.25L460,526.82L460.15,541L460.3,555.97L460.4,565L460.45,569.23L460.6,582.7L460.75,596.81L460.9,610.92L461,620L461.05,624.52L461.2,638.79L461.35,653.15L461.5,666.35L461.65,677.15L461.7,680L461.8,685.17L461.95,692.46L462.1,698.94L462.25,704.3L462.4,708.27L462.5,710L462.55,710.65L462.7,712.46L462.85,714.04L463,715.4L463.15,716.52L463.3,717.42L463.45,718.08L463.6,718.5L463.6,718.5L463.75,718.8L463.9,719.07L464.05,719.33L464.2,719.57L464.35,719.8L464.5,720L464.65,720.19L464.8,720.36L464.95,720.51L465.1,720.64L465.25,720.75L465.4,720.84L465.55,720.91L465.7,720.96L465.85,720.99L466,721L466,721L466.15,721L466.3,721L466.45,721L466.6,721L466.75,721L466.9,721L467.05,721L467.2,721L467.35,721L467.5,721L467.65,721L467.8,721L467.95,721L468.1,721L468.25,721L468.4,721L468.55,721L468.7,721L468.85,721L469,721L469.15,721L469.3,721L469.45,721L469.5,721L469.6,720.88L469.75,720.29L469.9,719.35L470.05,718.21L470.2,717.01L470.35,715.88L470.4,715.55L470.5,714.95L470.65,714.11L470.8,713.3L470.95,712.47L471.1,711.54L471.25,710.47L471.4,709.19L471.48,708.4L471.55,707.6L471.7,705.37L471.85,702.46L472,698.9L472.08,696.75L472.15,694.57L472.3,688.42L472.45,680.45L472.5,677.43L472.6,670.06L472.75,655.61L472.8,650.2L472.9,637.37L472.98,625.97L473.05,615.05L473.19,594.85L473.2,593.86L473.35,580.72L473.4,579.4L473.5,584.12L473.61,594.85L473.65,599.52L473.8,623.04L473.82,625.97L473.95,644.17L474,650.2L474.1,660.78L474.25,674.02L474.3,677.43L474.4,683.3L474.55,690.68L474.7,696.18L474.72,696.75L474.85,700.16L475,703.5L475.15,706.19L475.3,708.19L475.32,708.4L475.45,709.67L475.6,710.93L475.75,712.03L475.9,712.99L476.05,713.83L476.2,714.6L476.35,715.32L476.4,715.55L476.5,716.03L476.65,716.76L476.8,717.49L476.95,718.21L477.1,718.89L477.25,719.52L477.4,720.07L477.55,720.54L477.7,720.89L477.85,721.12L478,721.2L478,721.2L478.15,721.2L478.3,721.2L478.45,721.2L478.6,721.2L478.75,721.19L478.9,721.19L479.05,721.18L479.2,721.18L479.35,721.17L479.5,721.17L479.65,721.16L479.8,721.15L479.95,721.14L480.1,721.13L480.25,721.12L480.4,721.1L480.55,721.09L480.7,721.07L480.85,721.06L481,721.04L481.15,721.02L481.3,721L481.3,721L481.45,720.81L481.6,720.3L481.75,719.53L481.9,718.54L482.05,717.38L482.2,716.1L482.35,714.75L482.5,713.37L482.54,713L482.65,711.93L482.8,710.2L482.95,708.06L483.09,705.61L483.1,705.41L483.25,701.63L483.4,696.42L483.48,693.34L483.55,689.61L483.7,679.79L483.75,676.05L483.85,667.09L483.92,660.66L484,651.35L484.11,640.91L484.15,637.93L484.3,631.1L484.3,631.1L484.45,637.93L484.49,640.91L484.6,651.35L484.69,660.66L484.75,667.09L484.85,676.05L484.9,679.79L485.05,689.61L485.12,693.34L485.2,696.42L485.35,701.63L485.5,705.41L485.51,705.61L485.65,708.12L485.8,710.36L485.95,712.09L486.06,713L486.1,713.28L486.25,714.28L486.4,715.23L486.55,716.13L486.7,716.97L486.85,717.74L487,718.44L487.15,719.06L487.3,719.6L487.45,720.04L487.6,720.39L487.75,720.64L487.9,720.77L488,720.8L488.05,720.79L488.2,720.71L488.35,720.54L488.5,720.28L488.65,719.94L488.8,719.52L488.95,719.02L489.1,718.46L489.25,717.83L489.4,717.13L489.55,716.39L489.7,715.59L489.76,715.25L489.85,714.62L490,713.05L490.15,710.92L490.21,709.94L490.3,708.1L490.45,703.8L490.52,701.12L490.6,697.76L490.75,688.7L490.75,688.7L490.88,677.64L490.9,676.31L491.04,663.45L491.05,663L491.2,656.4L491.2,656.4L491.35,663L491.36,663.45L491.5,676.31L491.51,677.64L491.65,688.7L491.65,688.7L491.8,697.76L491.88,701.12L491.95,703.8L492.1,708.1L492.19,709.94L492.25,710.92L492.4,712.98L492.55,714.54L492.64,715.25L492.7,715.67L492.85,716.69L493,717.66L493.15,718.56L493.3,719.37L493.45,720.06L493.6,720.62L493.75,721.02L493.9,721.25L494,721.3L494.05,721.3L494.2,721.3L494.35,721.3L494.5,721.3L494.65,721.3L494.8,721.3L494.95,721.3L495.1,721.3L495.25,721.3L495.4,721.3L495.55,721.3L495.7,721.3L495.85,721.3L496,721.3L496.15,721.3L496.3,721.3L496.45,721.3L496.6,721.3L496.75,721.3L496.9,721.3L497.05,721.3L497.2,721.3L497.35,721.3L497.5,721.3L497.65,721.3L497.8,721.3L497.95,721.3L498.1,721.3L498.25,721.3L498.4,721.3L498.55,721.3L498.7,721.3L498.85,721.3L499,721.3L499.15,721.3L499.3,721.3L499.45,721.3L499.6,721.3L499.75,721.3L499.9,721.3L500.05,721.3L500.2,721.3L500.35,721.3L500.5,721.3L500.65,721.3L500.8,721.3L500.95,721.3L501.1,721.3L501.25,721.3L501.4,721.3L501.55,721.3L501.7,721.3L501.85,721.3L502,721.3L502.15,721.3L502.3,721.3L502.45,721.3L502.6,721.3L502.75,721.3L502.9,721.3L503.05,721.3L503.2,721.3L503.35,721.3L503.5,721.3L503.65,721.3L503.8,721.3L503.95,721.3L504.1,721.3L504.25,721.3L504.4,721.3L504.55,721.3L504.7,721.3L504.85,721.3L505,721.3L505,721.3L505.15,721.3L505.3,721.3L505.45,721.3L505.6,721.3L505.75,721.3L505.9,721.3L506.05,721.3L506.2,721.3L506.35,721.3L506.5,721.3L506.65,721.3L506.8,721.3L506.95,721.3L507.1,721.3L507.25,721.3L507.4,721.3L507.55,721.3L507.7,721.3L507.85,721.3L508,721.3L508.15,721.3L508.3,721.3L508.45,721.3L508.6,721.3L508.75,721.3L508.9,721.3L509.05,721.3L509.2,721.3L509.35,721.3L509.5,721.3L509.65,721.3L509.8,721.3L509.95,721.3L510.1,721.3L510.25,721.3L510.4,721.3L510.55,721.3L510.7,721.3L510.85,721.3L511,721.3L511.15,721.3L511.3,721.3L511.45,721.3L511.6,721.3L511.75,721.3L511.9,721.3L512.05,721.3L512.2,721.3L512.35,721.3L512.5,721.3L512.65,721.3L512.8,721.3L512.95,721.3L513.1,721.3L513.25,721.3L513.4,721.3L513.55,721.3L513.7,721.3L513.85,721.3L514,721.3L514.15,721.3L514.3,721.3L514.45,721.3L514.6,721.3L514.75,721.3L514.9,721.3L515,721.3L515.05,721.3L515.2,721.24L515.35,721.13L515.5,720.95L515.65,720.71L515.8,720.41L515.95,720.04L516.1,719.62L516.25,719.13L516.4,718.58L516.55,717.97L516.7,717.3L516.7,717.3L516.85,716.07L517,713.88L517.1,712.05L517.15,710.68L517.3,704.37L517.32,703.49L517.45,691.72L517.47,689.3L517.58,669.3L517.6,664.43L517.65,651.5L517.72,628.65L517.75,623.2L517.8,617.3L517.88,628.65L517.9,634.42L517.95,651.5L518.02,669.3L518.05,675.71L518.13,689.3L518.2,697.05L518.28,703.49L518.35,706.86L518.5,711.96L518.5,712.05L518.65,714.7L518.8,716.58L518.9,717.3L518.95,717.54L519.1,718.22L519.25,718.83L519.4,719.38L519.55,719.86L519.7,720.28L519.85,720.62L520,720.9L520.15,721.1L520.3,721.23L520.45,721.3L520.5,721.3L520.6,721.29L520.75,721.26L520.9,721.2L521.05,721.12L521.2,721.01L521.35,720.87L521.5,720.72L521.65,720.53L521.8,720.33L521.94,720.13L521.95,720.11L522.1,719.68L522.24,719.04L522.25,718.99L522.4,717.79L522.45,717.24L522.55,715.69L522.6,714.7L522.69,712.44L522.7,712.17L522.79,709.54L522.85,708.54L522.9,708.1L523,709.45L523,709.54L523.11,712.44L523.15,713.5L523.2,714.7L523.3,716.55L523.35,717.24L523.45,718.26L523.56,719.04L523.6,719.24L523.75,719.87L523.86,720.13L523.9,720.18L524.05,720.38L524.2,720.56L524.35,720.72L524.5,720.86L524.65,720.98L524.8,721.08L524.95,721.16L525.1,721.23L525.25,721.27L525.4,721.29L525.5,721.3L525.55,721.3L525.7,721.3L525.85,721.3L526,721.3L526.15,721.31L526.3,721.31L526.45,721.31L526.6,721.31L526.75,721.31L526.9,721.31L527.05,721.31L527.2,721.31L527.35,721.31L527.5,721.32L527.65,721.32L527.8,721.32L527.95,721.32L528.1,721.32L528.25,721.32L528.4,721.32L528.55,721.32L528.7,721.32L528.85,721.33L529,721.33L529.15,721.33L529.3,721.33L529.45,721.33L529.6,721.33L529.75,721.33L529.9,721.33L530.05,721.33L530.2,721.33L530.35,721.33L530.5,721.34L530.65,721.34L530.8,721.34L530.95,721.34L531.1,721.34L531.25,721.34L531.4,721.34L531.55,721.34L531.7,721.34L531.85,721.34L532,721.34L532.15,721.35L532.3,721.35L532.45,721.35L532.6,721.35L532.75,721.35L532.9,721.35L533.05,721.35L533.2,721.35L533.35,721.35L533.5,721.35L533.65,721.35L533.8,721.35L533.95,721.35L534.1,721.36L534.25,721.36L534.4,721.36L534.55,721.36L534.7,721.36L534.85,721.36L535,721.36L535.15,721.36L535.3,721.36L535.45,721.36L535.6,721.36L535.75,721.36L535.9,721.36L536.05,721.36L536.2,721.36L536.35,721.37L536.5,721.37L536.65,721.37L536.8,721.37L536.95,721.37L537.1,721.37L537.25,721.37L537.4,721.37L537.55,721.37L537.7,721.37L537.85,721.37L538,721.37L538.15,721.37L538.3,721.37L538.45,721.37L538.6,721.37L538.75,721.37L538.9,721.37L539.05,721.38L539.2,721.38L539.35,721.38L539.5,721.38L539.65,721.38L539.8,721.38L539.95,721.38L540.1,721.38L540.25,721.38L540.4,721.38L540.55,721.38L540.7,721.38L540.85,721.38L541,721.38L541.15,721.38L541.3,721.38L541.45,721.38L541.6,721.38L541.75,721.38L541.9,721.38L542.05,721.38L542.2,721.38L542.35,721.38L542.5,721.39L542.65,721.39L542.8,721.39L542.95,721.39L543.1,721.39L543.25,721.39L543.4,721.39L543.55,721.39L543.7,721.39L543.85,721.39L544,721.39L544.15,721.39L544.3,721.39L544.45,721.39L544.6,721.39L544.75,721.39L544.9,721.39L545.05,721.39L545.2,721.39L545.35,721.39L545.5,721.39L545.65,721.39L545.8,721.39L545.95,721.39L546.1,721.39L546.25,721.39L546.4,721.39L546.55,721.39L546.7,721.39L546.85,721.39L547,721.39L547.15,721.39L547.3,721.39L547.45,721.39L547.6,721.39L547.75,721.39L547.9,721.39L548.05,721.39L548.2,721.39L548.35,721.4L548.5,721.4L548.65,721.4L548.8,721.4L548.95,721.4L549.1,721.4L549.25,721.4L549.4,721.4L549.55,721.4L549.7,721.4L549.85,721.4L550,721.4L550.15,721.4L550.3,721.4L550.45,721.4L550.6,721.4L550.75,721.4L550.9,721.4L551.05,721.4L551.2,721.4L551.35,721.4L551.5,721.4L551.65,721.4L551.8,721.4L551.95,721.4L552.1,721.4L552.25,721.4L552.4,721.4L552.55,721.4L552.7,721.4L552.85,721.4L553,721.4L553.15,721.4L553.3,721.4L553.45,721.4L553.6,721.4L553.75,721.4L553.9,721.4L554.05,721.4L554.2,721.4L554.35,721.4L554.5,721.4L554.65,721.4L554.8,721.4L554.95,721.4L555.1,721.4L555.25,721.4L555.4,721.4L555.55,721.4L555.7,721.4L555.85,721.4L556,721.4L556.15,721.4L556.3,721.4L556.45,721.4L556.6,721.4L556.75,721.4L556.9,721.4L557.05,721.4L557.2,721.4L557.35,721.4L557.5,721.4L557.65,721.4L557.8,721.4L557.95,721.4L558.1,721.4L558.25,721.4L558.4,721.4L558.55,721.4L558.7,721.4L558.85,721.4L559,721.4L559.15,721.4L559.3,721.4L559.45,721.4L559.6,721.4L559.75,721.4L559.9,721.4L560,721.4L560.05,721.4L560.2,721.4L560.35,721.4L560.5,721.4L560.65,721.4L560.8,721.4L560.95,721.4L561.1,721.4L561.25,721.4L561.4,721.4L561.55,721.4L561.7,721.4L561.85,721.4L562,721.4L562.15,721.4L562.3,721.4L562.45,721.4L562.6,721.4L562.75,721.4L562.9,721.4L563.05,721.4L563.2,721.4L563.35,721.4L563.5,721.4L563.65,721.4L563.8,721.4L563.95,721.4L564.1,721.4L564.25,721.4L564.4,721.4L564.55,721.4L564.7,721.4L564.85,721.4L565,721.4L565.15,721.4L565.3,721.4L565.45,721.4L565.6,721.4L565.75,721.4L565.9,721.4L566.05,721.4L566.2,721.4L566.35,721.4L566.5,721.4L566.65,721.4L566.8,721.4L566.95,721.4L567.1,721.4L567.25,721.4L567.4,721.4L567.55,721.4L567.7,721.4L567.85,721.4L568,721.4L568.15,721.4L568.3,721.4L568.45,721.4L568.6,721.4L568.75,721.4L568.9,721.4L569.05,721.4L569.2,721.4L569.35,721.4L569.5,721.4L569.65,721.4L569.8,721.4L569.95,721.4L570.1,721.4L570.25,721.4L570.4,721.4L570.55,721.4L570.7,721.4L570.85,721.4L571,721.4L571.15,721.4L571.3,721.4L571.45,721.4L571.6,721.4L571.75,721.4L571.9,721.4L572.05,721.4L572.2,721.4L572.35,721.4L572.5,721.4L572.65,721.4L572.8,721.4L572.95,721.4L573.1,721.4L573.25,721.4L573.4,721.4L573.55,721.4L573.7,721.4L573.85,721.4L574,721.4L574.15,721.4L574.3,721.4L574.45,721.4L574.6,721.4L574.75,721.4L574.9,721.4L575.05,721.4L575.2,721.4L575.35,721.4L575.5,721.4L575.65,721.4L575.8,721.4L575.95,721.4L576.1,721.4L576.25,721.4L576.4,721.4L576.55,721.4L576.7,721.4L576.85,721.4L577,721.4L577.15,721.4L577.3,721.4L577.45,721.4L577.6,721.4L577.75,721.4L577.9,721.4L578.05,721.4L578.2,721.4L578.35,721.4L578.5,721.4L578.65,721.4L578.8,721.4L578.95,721.4L579.1,721.4L579.25,721.4L579.4,721.4L579.55,721.4L579.7,721.4L579.85,721.4L580,721.4L580.15,721.4L580.3,721.4L580.45,721.4L580.6,721.4L580.75,721.4L580.9,721.4L581.05,721.4L581.2,721.4L581.35,721.4L581.5,721.4L581.65,721.4L581.8,721.4L581.95,721.4L582.1,721.4L582.25,721.4L582.4,721.4L582.55,721.4L582.7,721.4L582.85,721.4L583,721.4L583.15,721.4L583.3,721.4L583.45,721.4L583.6,721.4L583.75,721.4L583.9,721.4L584.05,721.4L584.2,721.4L584.35,721.4L584.5,721.4L584.65,721.4L584.8,721.4L584.95,721.4L585.1,721.4L585.25,721.4L585.4,721.4L585.55,721.4L585.7,721.4L585.85,721.4L586,721.4L586.15,721.4L586.3,721.4L586.45,721.4L586.6,721.4L586.75,721.4L586.9,721.4L587.05,721.4L587.2,721.4L587.35,721.4L587.5,721.4L587.65,721.4L587.8,721.4L587.95,721.4L588.1,721.4L588.25,721.4L588.4,721.4L588.55,721.4L588.7,721.4L588.85,721.4L589,721.4L589.15,721.4L589.3,721.4L589.45,721.4L589.6,721.4L589.75,721.4L589.9,721.4L590.05,721.4L590.2,721.4L590.35,721.4L590.5,721.4L590.65,721.4L590.8,721.4L590.95,721.4L591.1,721.4L591.25,721.4L591.4,721.4L591.55,721.4L591.7,721.4L591.85,721.4L592,721.4L592.15,721.4L592.3,721.4L592.45,721.4L592.6,721.4L592.75,721.4L592.9,721.4L593.05,721.4L593.2,721.4L593.35,721.4L593.5,721.4L593.65,721.4L593.8,721.4L593.95,721.4L594.1,721.4L594.25,721.4L594.4,721.4L594.55,721.4L594.7,721.4L594.85,721.4L595,721.4L595,721.4L595.15,721.4L595.3,721.4L595.45,721.4L595.6,721.4L595.75,721.39L595.9,721.39L596.05,721.39L596.2,721.39L596.35,721.38L596.5,721.38L596.65,721.37L596.8,721.37L596.95,721.36L597.1,721.36L597.25,721.35L597.4,721.35L597.55,721.34L597.7,721.33L597.85,721.32L598,721.31L598.15,721.3L598.3,721.3L598.45,721.29L598.6,721.27L598.75,721.26L598.9,721.25L599.05,721.24L599.2,721.23L599.35,721.21L599.5,721.2L599.5,721.2L599.65,721.18L599.8,721.14L599.95,721.09L600.1,721.03L600.25,720.96L600.4,720.87L600.55,720.78L600.7,720.67L600.85,720.56L601,720.44L601.15,720.31L601.3,720.18L601.45,720.05L601.5,720L601.6,719.9L601.75,719.72L601.9,719.52L602.05,719.28L602.2,719.02L602.35,718.74L602.5,718.43L602.65,718.1L602.8,717.76L602.95,717.39L603.1,717.02L603.25,716.63L603.3,716.5L603.4,716.24L603.55,715.83L603.7,715.4L603.85,714.93L604,714.41L604.15,713.84L604.3,713.19L604.45,712.45L604.6,711.62L604.7,711L604.75,710.66L604.9,709.35L605.05,707.63L605.2,705.5L605.35,702.95L605.5,700L605.5,700L605.65,695.92L605.8,690.24L605.95,683.32L606.1,675.51L606.2,670L606.25,666.89L606.4,655.13L606.55,643.22L606.6,640L606.7,633.71L606.85,624.82L607,620.8L607,620.8L607.15,625.01L607.3,634.01L607.4,640L607.45,642.77L607.6,651.98L607.75,661.51L607.9,670L607.9,670L608.05,677.71L608.2,685.18L608.35,691.46L608.5,695.6L608.5,695.6L608.65,698.18L608.8,700.41L608.95,702.34L609.1,703.99L609.25,705.4L609.4,706.6L609.55,707.62L609.7,708.5L609.7,708.5L609.85,709.3L610,710.04L610.15,710.73L610.3,711.38L610.45,711.97L610.6,712.5L610.75,712.99L610.9,713.43L611.05,713.81L611.2,714.14L611.35,714.42L611.4,714.5L611.5,714.65L611.65,714.88L611.8,715.1L611.95,715.3L612.1,715.5L612.25,715.69L612.4,715.88L612.55,716.05L612.7,716.22L612.85,716.38L613,716.53L613.15,716.67L613.3,716.8L613.45,716.93L613.6,717.05L613.75,717.16L613.9,717.27L614.05,717.36L614.2,717.45L614.35,717.53L614.5,717.61L614.65,717.67L614.8,717.73L614.95,717.78L615,717.8L615.1,717.83L615.25,717.88L615.4,717.92L615.55,717.96L615.7,718.01L615.85,718.05L616,718.09L616.15,718.13L616.3,718.17L616.45,718.21L616.6,718.24L616.75,718.28L616.9,718.31L617.05,718.35L617.2,718.38L617.35,718.41L617.5,718.44L617.65,718.46L617.8,718.49L617.95,718.52L618.1,718.54L618.25,718.56L618.4,718.58L618.55,718.6L618.7,718.62L618.85,718.64L619,718.65L619.15,718.66L619.3,718.67L619.45,718.68L619.6,718.69L619.75,718.69L619.9,718.7L620.05,718.7L620.1,718.7L620.2,718.7L620.35,718.7L620.5,718.7L620.65,718.69L620.8,718.69L620.95,718.68L621.1,718.67L621.25,718.67L621.4,718.66L621.55,718.65L621.7,718.64L621.85,718.62L622,718.61L622.15,718.6L622.3,718.58L622.45,718.57L622.6,718.55L622.75,718.53L622.9,718.51L623.05,718.49L623.2,718.47L623.35,718.45L623.5,718.43L623.65,718.41L623.8,718.39L623.95,718.37L624.1,718.34L624.25,718.32L624.4,718.29L624.55,718.27L624.7,718.24L624.85,718.22L625,718.19L625.15,718.16L625.3,718.13L625.45,718.11L625.6,718.08L625.75,718.05L625.9,718.02L626,718L626.05,717.99L626.2,717.96L626.35,717.92L626.5,717.89L626.65,717.84L626.8,717.8L626.95,717.75L627.1,717.7L627.25,717.65L627.4,717.6L627.55,717.54L627.7,717.48L627.85,717.41L628,717.35L628.15,717.28L628.3,717.2L628.45,717.13L628.6,717.05L628.75,716.97L628.9,716.89L629.05,716.8L629.2,716.72L629.35,716.63L629.5,716.53L629.65,716.44L629.8,716.34L629.95,716.24L630.1,716.14L630.25,716.03L630.4,715.92L630.55,715.81L630.7,715.7L630.85,715.59L631,715.47L631.15,715.35L631.3,715.23L631.45,715.11L631.6,714.98L631.7,714.9L631.75,714.86L631.9,714.72L632.05,714.56L632.2,714.39L632.35,714.21L632.5,714.02L632.65,713.81L632.8,713.59L632.95,713.37L633.1,713.13L633.25,712.89L633.4,712.63L633.55,712.37L633.7,712.1L633.85,711.83L634,711.55L634.15,711.27L634.3,710.98L634.45,710.69L634.6,710.39L634.75,710.1L634.8,710L634.9,709.8L635.05,709.49L635.2,709.16L635.35,708.83L635.5,708.48L635.65,708.12L635.8,707.75L635.95,707.37L636.1,706.99L636.25,706.59L636.4,706.18L636.55,705.77L636.7,705.35L636.85,704.92L637,704.48L637.15,704.04L637.3,703.6L637.4,703.3L637.45,703.15L637.6,702.69L637.75,702.21L637.9,701.73L638.05,701.23L638.2,700.72L638.35,700.2L638.5,699.67L638.65,699.13L638.8,698.58L638.95,698.03L639.1,697.47L639.25,696.9L639.4,696.33L639.55,695.75L639.7,695.16L639.85,694.58L640,693.98L640.15,693.39L640.3,692.8L640.45,692.2L640.5,692L640.6,691.6L640.75,690.97L640.9,690.32L641.05,689.65L641.2,688.97L641.35,688.28L641.5,687.58L641.65,686.87L641.8,686.17L641.95,685.47L642.1,684.77L642.25,684.09L642.4,683.41L642.55,682.76L642.7,682.12L642.85,681.51L643,680.93L643.15,680.38L643.2,680.2L643.3,679.85L643.45,679.33L643.6,678.81L643.75,678.3L643.9,677.8L644.05,677.31L644.2,676.83L644.35,676.37L644.5,675.93L644.65,675.51L644.8,675.11L644.95,674.74L645.1,674.4L645.25,674.1L645.3,674L645.4,673.81L645.55,673.52L645.7,673.23L645.85,672.95L646,672.67L646.15,672.41L646.3,672.17L646.45,671.96L646.6,671.78L646.75,671.64L646.9,671.55L647.05,671.5L647.1,671.5L647.2,671.51L647.35,671.55L647.5,671.62L647.65,671.71L647.8,671.83L647.95,671.96L648.1,672.09L648.25,672.23L648.4,672.37L648.55,672.5L648.7,672.62L648.85,672.72L649,672.8L649,672.8L649.15,672.86L649.3,672.93L649.45,672.99L649.6,673.05L649.75,673.1L649.9,673.15L650.05,673.2L650.2,673.25L650.35,673.29L650.5,673.33L650.65,673.36L650.8,673.39L650.9,673.4" fill="none" stroke="#e00d17" stroke-width="1.6" stroke-linejoin="round"/>
<line x1="200.6" y1="525.2" x2="194.02" y2="523.6" stroke="#000" stroke-width="1.7"/><polygon points="180.9,520.4 195.96,519.85 194.02,527.82" fill="#000"/><text x="203" y="533.6" font-size="16.8" fill="#000">R1</text><line x1="159.6" y1="678.5" x2="166.04" y2="695.57" stroke="#000" stroke-width="1.7"/><polygon points="170.8,708.2 161.85,696.08 169.52,693.19" fill="#000"/><text x="151.6" y="673.6" font-size="16.8" fill="#000">R2</text><line x1="147.5" y1="567.5" x2="143.98" y2="573.81" stroke="#000" stroke-width="1.7"/><polygon points="137.4,585.6 140.89,570.94 148.05,574.94" fill="#000"/><text x="142.8" y="564.6" font-size="16.8" fill="#000">R3</text><line x1="210.6" y1="574.4" x2="205.49" y2="580.13" stroke="#000" stroke-width="1.7"/><polygon points="196.5,590.2 203.1,576.65 209.21,582.11" fill="#000"/><text x="211" y="574.6" font-size="16.8" fill="#000">R4</text><line x1="477.6" y1="525.8" x2="473.71" y2="522.51" stroke="#e00d17" stroke-width="1.7"/><polygon points="463.4,513.8 477.12,520.03 471.83,526.29" fill="#e00d17"/><text x="477.5" y="538.6" font-size="16.8" fill="#e00d17">R5</text><line x1="535.8" y1="690.9" x2="532.03" y2="697.08" stroke="#e00d17" stroke-width="1.7"/><polygon points="525,708.6 529.05,694.09 536.05,698.36" fill="#e00d17"/><text x="532.3" y="687.6" font-size="16.8" fill="#e00d17">R6</text><line x1="536.7" y1="604.9" x2="532.14" y2="608.64" stroke="#e00d17" stroke-width="1.7"/><polygon points="521.7,617.2 530.31,604.84 535.51,611.18" fill="#e00d17"/><text x="537.6" y="604" font-size="16.8" fill="#e00d17">R7</text><line x1="623" y1="607" x2="619.15" y2="610.85" stroke="#e00d17" stroke-width="1.7"/><polygon points="609.6,620.4 616.95,607.25 622.75,613.05" fill="#e00d17"/><text x="625.1" y="607" font-size="16.8" fill="#e00d17">R8</text>
</svg>
</body></html>
